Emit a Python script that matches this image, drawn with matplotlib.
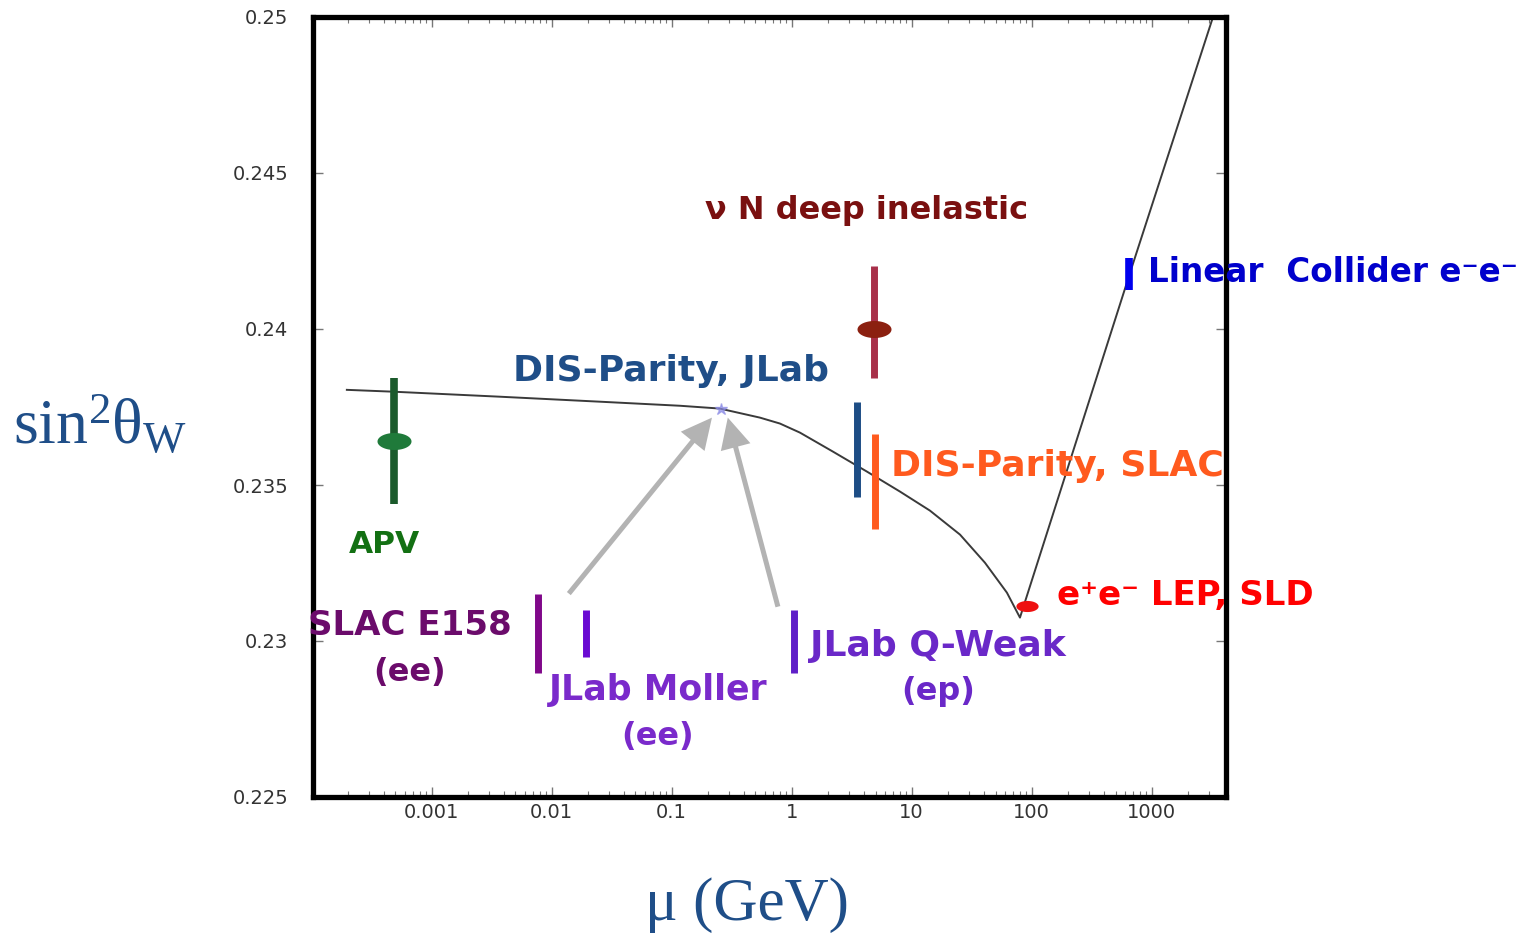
import matplotlib.pyplot as plt
import numpy as np
from matplotlib.path import Path
from matplotlib.ticker import LogLocator, NullFormatter

plt.rcParams["mathtext.fontset"] = "custom"
plt.rcParams["mathtext.rm"] = "Liberation Serif"
plt.rcParams["mathtext.it"] = "Liberation Serif:italic"

# running of sin^2(theta_W) with scale mu
curve_mu = [1.97e-4, 4.85e-4, 3.71e-3, 0.0253, 0.1173, 0.252, 0.544, 0.799, 1.172, 2.21, 4.24, 7.99,
            14.2, 25.3, 40.8, 62.2, 79.9, 686, 3243]
curve_s = [0.23805, 0.23799, 0.23783, 0.23767, 0.23754, 0.23745, 0.23716, 0.23697, 0.23668, 0.23607,
           0.23543, 0.23479, 0.23418, 0.23341, 0.23251, 0.23155, 0.23075, 0.24200, 0.25]

# error bars
bar_names = ["APV", "SLAC E158", "JLab Moller", "JLab Q-Weak", "DIS JLab", "DIS SLAC", "nuN", "Linear"]
bar_mu = [4.85e-4, 0.0077, 0.0193, 1.04, 3.5, 4.94, 4.9, 647]
bar_lo = [0.23438, 0.22898, 0.22950, 0.22898, 0.23462, 0.23360, 0.23844, 0.24126]
bar_hi = [0.23844, 0.23152, 0.23100, 0.23100, 0.23767, 0.23664, 0.24203, 0.24229]
bar_col = ["#1b5a2c", "#80088a", "#6a0ad2", "#5f1fc8", "#1d4d85", "#ff5a1e", "#a8304a", "#0000ee"]
bar_lw = [5.5, 5, 5, 5, 5, 5, 5, 5.5]

# measured central values (ellipses)
pt_mu = [4.85e-4, 4.9, 91.2]
pt_s = [0.23642, 0.24001, 0.23113]
pt_col = ["#1f7a3a", "#8b2010", "#ee1111"]
pt_size = [24.5, 24.5, 16]

# arrows pointing to the JLab point on the curve
arrow_tail = [(0.01393, 0.23152), (0.769, 0.2311)]
arrow_tip = [(0.217, 0.23716), (0.294, 0.23716)]

# labels: text, mu, s, colour, alignment
labels = [
    ("\u03bd N deep inelastic", 0.1895, 0.24379, "#7a1010", "left"),
    ("DIS-Parity, JLab", 0.00476, 0.23866, "#1f4e88", "left"),
    ("Linear  Collider e\u207be\u207b", 931, 0.24180, "#0000cc", "left"),
    ("DIS-Parity, SLAC", 6.72, 0.23562, "#ff5a1e", "left"),
    ("e\u207ae\u207b LEP, SLD", 162.6, 0.23145, "#ff0000", "left"),
    ("APV", 4.08e-4, 0.23309, "#137013", "center"),
    ("SLAC E158", 6.59e-4, 0.23049, "#6b0b6b", "center"),
    ("(ee)", 6.59e-4, 0.22898, "#6b0b6b", "center"),
    ("JLab Moller", 0.0769, 0.22844, "#7a2acb", "center"),
    ("(ee)", 0.0769, 0.22693, "#7a2acb", "center"),
    ("JLab Q-Weak", 16.56, 0.22985, "#6a28c8", "center"),
    ("(ep)", 16.56, 0.22838, "#6a28c8", "center"),
]
label_size = [23, 26, 23.5, 26, 24.5, 22.5, 24.5, 23, 25, 23, 26, 23]

tick_mu = [0.001, 0.01, 0.1, 1, 10, 100, 1000]
tick_mu_labels = ["0.001", "0.01", "0.1", "1", "10", "100", "1000"]
tick_s = [0.225, 0.23, 0.235, 0.24, 0.245, 0.25]

W, H = 1522, 936
fig = plt.figure(figsize=(W / 100, H / 100), dpi=100)
ax = fig.add_axes([313 / W, 1 - 797 / H, 913 / W, 780 / H])
ax.set_xscale("log")
ax.set_xlim(1.029e-4, 4161)
ax.set_ylim(0.225, 0.25)

ax.plot(curve_mu, curve_s, color="#3a3a3a", lw=1.4, zorder=2)

for i in range(len(bar_names)):
    ax.vlines(bar_mu[i], bar_lo[i], bar_hi[i], colors=bar_col[i], lw=bar_lw[i], zorder=3)

# elliptical marker (2:1)
t = np.linspace(0, 2 * np.pi, 60)
ell = Path(np.column_stack([np.cos(t), 0.5 * np.sin(t)]), closed=True)
for i in range(len(pt_mu)):
    ax.plot(pt_mu[i], pt_s[i], marker=ell, ms=pt_size[i], color=pt_col[i], mec="none", ls="none", zorder=4)

for a, b in zip(arrow_tail, arrow_tip):
    ax.annotate("", xy=b, xytext=a,
                arrowprops=dict(facecolor="#b3b3b3", edgecolor="none", width=3.6,
                                headwidth=22, headlength=22, shrink=0), zorder=2)
ax.plot(0.26, 0.23745, marker="*", ms=9, color="#8c8ce6", alpha=0.7, ls="none", zorder=3)

for (txt, x, y, c, ha), fs in zip(labels, label_size):
    ax.text(x, y, txt, color=c, ha=ha, va="center", fontsize=fs, fontweight="bold",
            family="DejaVu Sans", clip_on=False, zorder=5)

ax.set_xticks(tick_mu, tick_mu_labels)
ax.xaxis.set_minor_locator(LogLocator(base=10, subs=np.arange(2, 10)))
ax.xaxis.set_minor_formatter(NullFormatter())
ax.set_yticks(tick_s, [f"{v:g}" for v in tick_s])
ax.tick_params(axis="both", which="both", direction="in", top=True, right=True,
               color="#777777", labelcolor="#333333", labelsize=14)
ax.tick_params(axis="both", which="major", length=7, width=1)
ax.tick_params(axis="x", which="minor", length=4, width=0.8)
ax.tick_params(axis="y", pad=18)
ax.tick_params(axis="x", pad=4)
for sp in ax.spines.values():
    sp.set_linewidth(3.8)
    sp.set_color("black")

fig.text(100 / W, 1 - 425 / H, r"$\mathrm{sin}^{2}\mathrm{\theta}_{\mathrm{W}}$", color="#1f4e88",
         fontsize=46, ha="center", va="center")
fig.text(747 / W, 1 - 905 / H, "\u03bc (GeV)", color="#1f4e88", fontsize=44,
         family="Liberation Serif", ha="center", va="center")

fig.savefig("out.png", dpi=100)
